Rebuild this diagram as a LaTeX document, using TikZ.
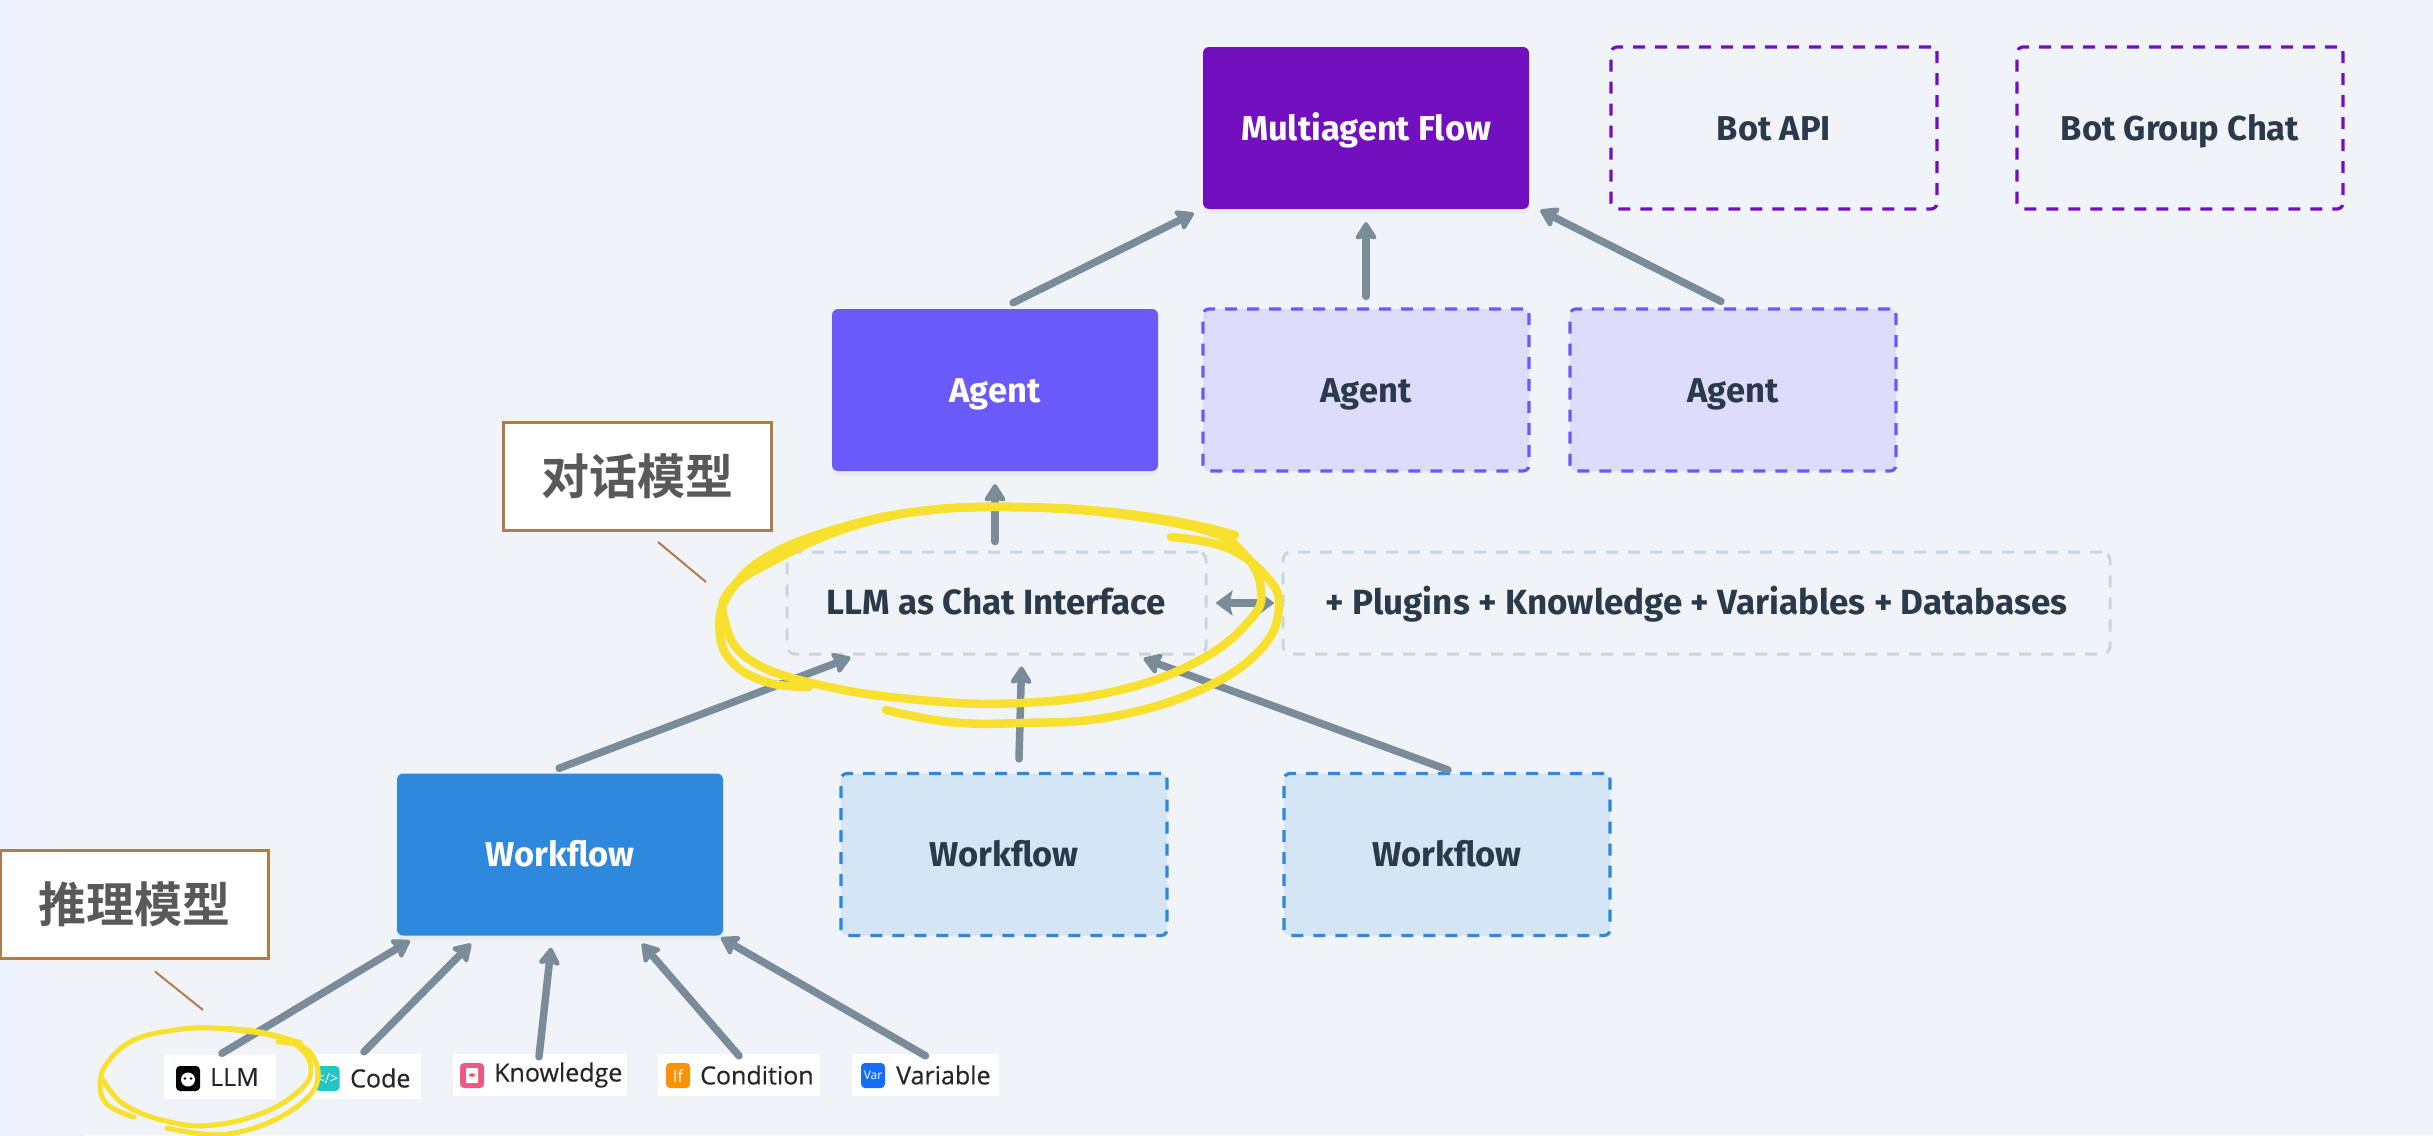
\documentclass[tikz,border=0pt]{standalone}
\usepackage{fontspec}
\setmainfont{Fira Sans}
\newfontfamily\cjkbold[BoldFont=Noto Sans CJK SC Bold]{Noto Sans CJK SC}
\newfontfamily\smallfont[FakeBold=0.4]{Open Sans}
\newfontfamily\iconfont{Open Sans}
\usetikzlibrary{arrows.meta,shadows,calc}
\definecolor{bgc}{HTML}{F0F4F8}
\definecolor{bgl}{HTML}{EDF3FF}
\definecolor{ink}{HTML}{2B3A4A}
\definecolor{multic}{HTML}{7210BF}
\definecolor{agentc}{HTML}{6A5AF9}
\definecolor{agentl}{HTML}{DEDCFD}
\definecolor{wfc}{HTML}{2E88DB}
\definecolor{wfl}{HTML}{D4E5F6}
\definecolor{chatd}{HTML}{CBD5DF}
\definecolor{arrc}{HTML}{7A8B99}
\definecolor{brownc}{HTML}{B07C4A}
\definecolor{greyt}{HTML}{595959}
\definecolor{yel}{HTML}{F7E02E}
\tikzset{
 x=1pt,y=-1pt,
 box/.style={rectangle,rounded corners=6pt,inner sep=0pt,text height=32pt,text depth=8pt,font=\fontsize{34.5}{40}\selectfont\bfseries,minimum width=#1},
 box/.default=326pt,
 solidbox/.style={box,minimum height=162pt,text=white,drop shadow={opacity=.07,shadow xshift=0pt,shadow yshift=-5pt}},
 dashbox/.style={box,minimum height=162pt,text=ink,line width=3.2pt,dash pattern=on 12pt off 10pt},
 chatbox/.style={rectangle,rounded corners=8pt,inner sep=0pt,minimum height=102pt,text=ink,text height=30pt,text depth=8pt,draw=chatd,line width=3pt,dash pattern=on 12pt off 10pt,font=\fontsize{35}{40}\selectfont\bfseries},
 arr/.style={draw=arrc,line width=7.5pt,line cap=round,-{Stealth[length=20pt,width=25pt,inset=3pt,round]}},
 arrboth/.style={draw=arrc,line width=7.5pt,{Stealth[length=17pt,width=25pt,inset=3pt]}-{Stealth[length=17pt,width=25pt,inset=3pt]}},
 callout/.style={rectangle,fill=white,draw=brownc,line width=3pt,inner sep=0pt,minimum width=268pt,minimum height=108pt,text=greyt,font=\cjkbold\fontsize{48}{52}\selectfont\bfseries},
 tick/.style={draw=brownc,line width=2pt},
 scrib/.style={draw=yel,line width=8.5pt,line cap=round,line join=round},
 chip/.style={rectangle,fill=white,inner sep=0pt,minimum height=42pt},
 chiptext/.style={inner sep=0pt,text=black!85,anchor=west,font=\smallfont\fontsize{25}{30}\selectfont},
 icon/.style={rectangle,rounded corners=4pt,inner sep=0pt,minimum width=24pt,minimum height=25pt,text=white},
}
\begin{document}
\begin{tikzpicture}
\useasboundingbox (0,0) rectangle (2433,1135);
\fill[bgc] (0,0) rectangle (2433,1135);
\shade[left color=bgl,right color=bgc] (0,0) rectangle (85,1135);

\node[solidbox,fill=multic] (multi) at (1366,128) {Multiagent Flow};
\node[dashbox,draw=multic] (botapi) at (1774,128) {Bot API};
\node[dashbox,draw=multic] (botgroup) at (2180,128) {Bot Group Chat};

\node[solidbox,fill=agentc] (agentA) at (995,390) {Agent};
\node[dashbox,draw=agentc,fill=agentl] (agentB) at (1366,390) {Agent};
\node[dashbox,draw=agentc,fill=agentl] (agentC) at (1733,390) {Agent};

\node[chatbox,minimum width=419pt] (chat) at (996.5,603) {LLM as Chat Interface};
\node[chatbox,minimum width=827pt] (plugins) at (1696.5,603) {+ Plugins + Knowledge + Variables + Databases};

\node[solidbox,fill=wfc] (wfA) at (560,854.5) {Workflow};
\node[dashbox,draw=wfc,fill=wfl] (wfB) at (1004,854.5) {Workflow};
\node[dashbox,draw=wfc,fill=wfl] (wfC) at (1447,854.5) {Workflow};

% chips
\node[chip,minimum width=112pt,minimum height=44pt] (llm) at (220,1076.5) {};
\node[chip,minimum width=114pt,minimum height=45pt] (code) at (364,1076.5) {};
\node[chip,minimum width=174pt] (know) at (540,1075) {};
\node[chip,minimum width=162pt] (cond) at (739,1075) {};
\node[chip,minimum width=147pt] (vari) at (925.5,1075) {};

\node[icon,fill=black] (icoA) at (188,1078.5) {};
\fill[white] (icoA.center) ++(0,1) circle (7);
\fill[black] (icoA.center) ++(-3,0) circle (1.4) ++(6,0) circle (1.4);
\node[icon,fill={rgb,255:red,38;green,196;blue,196}] (icoB) at (327.5,1078.5) {\fontsize{14}{14}\selectfont\iconfont</>};
\node[icon,fill={rgb,255:red,236;green,90;blue,130}] (icoC) at (472,1075.5) {\tikz[x=1pt,y=1pt]{\fill[white,rounded corners=1pt] (0,0) rectangle (12,15);\fill[red!70!white] (3,6) rectangle (9,10);}};
\node[icon,fill={rgb,255:red,255;green,145;blue,0}] (icoD) at (678,1075.5) {\fontsize{17}{17}\selectfont\iconfont If};
\node[icon,fill={rgb,255:red,20;green,110;blue,250}] (icoE) at (873,1075.5) {\fontsize{12}{12}\selectfont\iconfont Var};

\node[chiptext] (tA) at (210,1077) {LLM};
\node[chiptext] (tB) at (350,1078) {Code};
\node[chiptext] (tC) at (494,1075) {Knowledge};
\node[chiptext] (tD) at (700,1075) {Condition};
\node[chiptext] (tE) at (896,1075) {Variable};

% arrows lower
\draw[arr] ([xshift=2pt,yshift=1pt]llm.north) -- ([xshift=-150pt,yshift=-5pt]wfA.south);
\draw[arr] ([yshift=2pt]code.north) -- ([xshift=-89pt,yshift=-8pt]wfA.south);
\draw[arr] ([xshift=-1pt,yshift=-3pt]know.north) -- ([xshift=-9pt,yshift=-12pt]wfA.south);
\draw[arr] ([yshift=-2pt]cond.north) -- ([xshift=82pt,yshift=-8pt]wfA.south);
\draw[arr] ([yshift=-2pt]vari.north) -- ([xshift=161pt,yshift=-2pt]wfA.south);
% arrows middle
\draw[arr] ([xshift=-1pt,yshift=5pt]wfA.north) -- ([xshift=-146pt,yshift=-2pt]chat.south);
\draw[arr] ([xshift=15pt,yshift=13pt]wfB.north) -- ([xshift=25pt,yshift=-11pt]chat.south);
\draw[arr] ([xshift=1pt,yshift=2pt]wfC.north) -- ([xshift=147pt,yshift=-3pt]chat.south);
\draw[arrboth] ([xshift=8pt]chat.east) -- ([xshift=-7pt]plugins.west);
\draw[arr] ([xshift=-1.5pt,yshift=9pt]chat.north) -- ([yshift=-13pt]agentA.south);
% arrows upper
\draw[arr] ([xshift=18pt,yshift=6pt]agentA.north) -- ([xshift=-9pt,yshift=-4pt]multi.south west);
\draw[arr] ([yshift=11pt]agentB.north) -- ([yshift=-13pt]multi.south);
\draw[arr] ([xshift=-12pt,yshift=6pt]agentC.north) -- ([xshift=11pt,yshift=-1pt]multi.south east);

% scribbles
\draw[scrib] plot[smooth,tension=.7] coordinates {(809,687) (770,683) (735,665) (720,635) (728,595) (770,555) (850,525) (930,510) (1011,507) (1100,511) (1180,522) (1235,535)};
\draw[scrib] plot[smooth,tension=.7] coordinates {(1011,507) (930,510) (850,527) (775,560) (730,590) (725,622) (750,660) (820,685) (920,700) (1021,703) (1120,690) (1200,660) (1250,620) (1261,590) (1245,555) (1204,530) (1100,512) (1011,507)};
\draw[scrib] plot[smooth,tension=.7] coordinates {(1171,537) (1225,547) (1265,575) (1279,607) (1260,650) (1200,690) (1110,717) (1021,723) (950,722) (886,710)};

\draw[scrib,line width=5pt] plot[smooth,tension=.7] coordinates {(134,1117) (108,1105) (100,1085) (108,1062) (134,1040) (175,1030) (214,1028) (260,1032) (301,1043)};
\draw[scrib,line width=5pt] plot[smooth,tension=.7] coordinates {(103,1080) (125,1105) (170,1122) (214,1125) (265,1112) (300,1090) (311,1070) (300,1048) (270,1035) (214,1028)};
\draw[scrib,line width=5pt] plot[smooth,tension=.7] coordinates {(167,1128) (195,1133) (228,1134) (270,1122) (305,1100) (318,1078) (312,1055) (298,1045) (278,1042)};

% callouts
\node[callout] (talk) at (637,476.5) {对话模型};
\node[callout] (infer) at (134,904) {推理模型};
\coordinate (talkEnd) at (706,582);
\coordinate (inferEnd) at (203,1010);
\draw[tick] ([xshift=21pt,yshift=-10pt]talk.south) -- (talkEnd);
\draw[tick] ([xshift=21pt,yshift=-12pt]infer.south) -- (inferEnd);
\end{tikzpicture}
\end{document}
